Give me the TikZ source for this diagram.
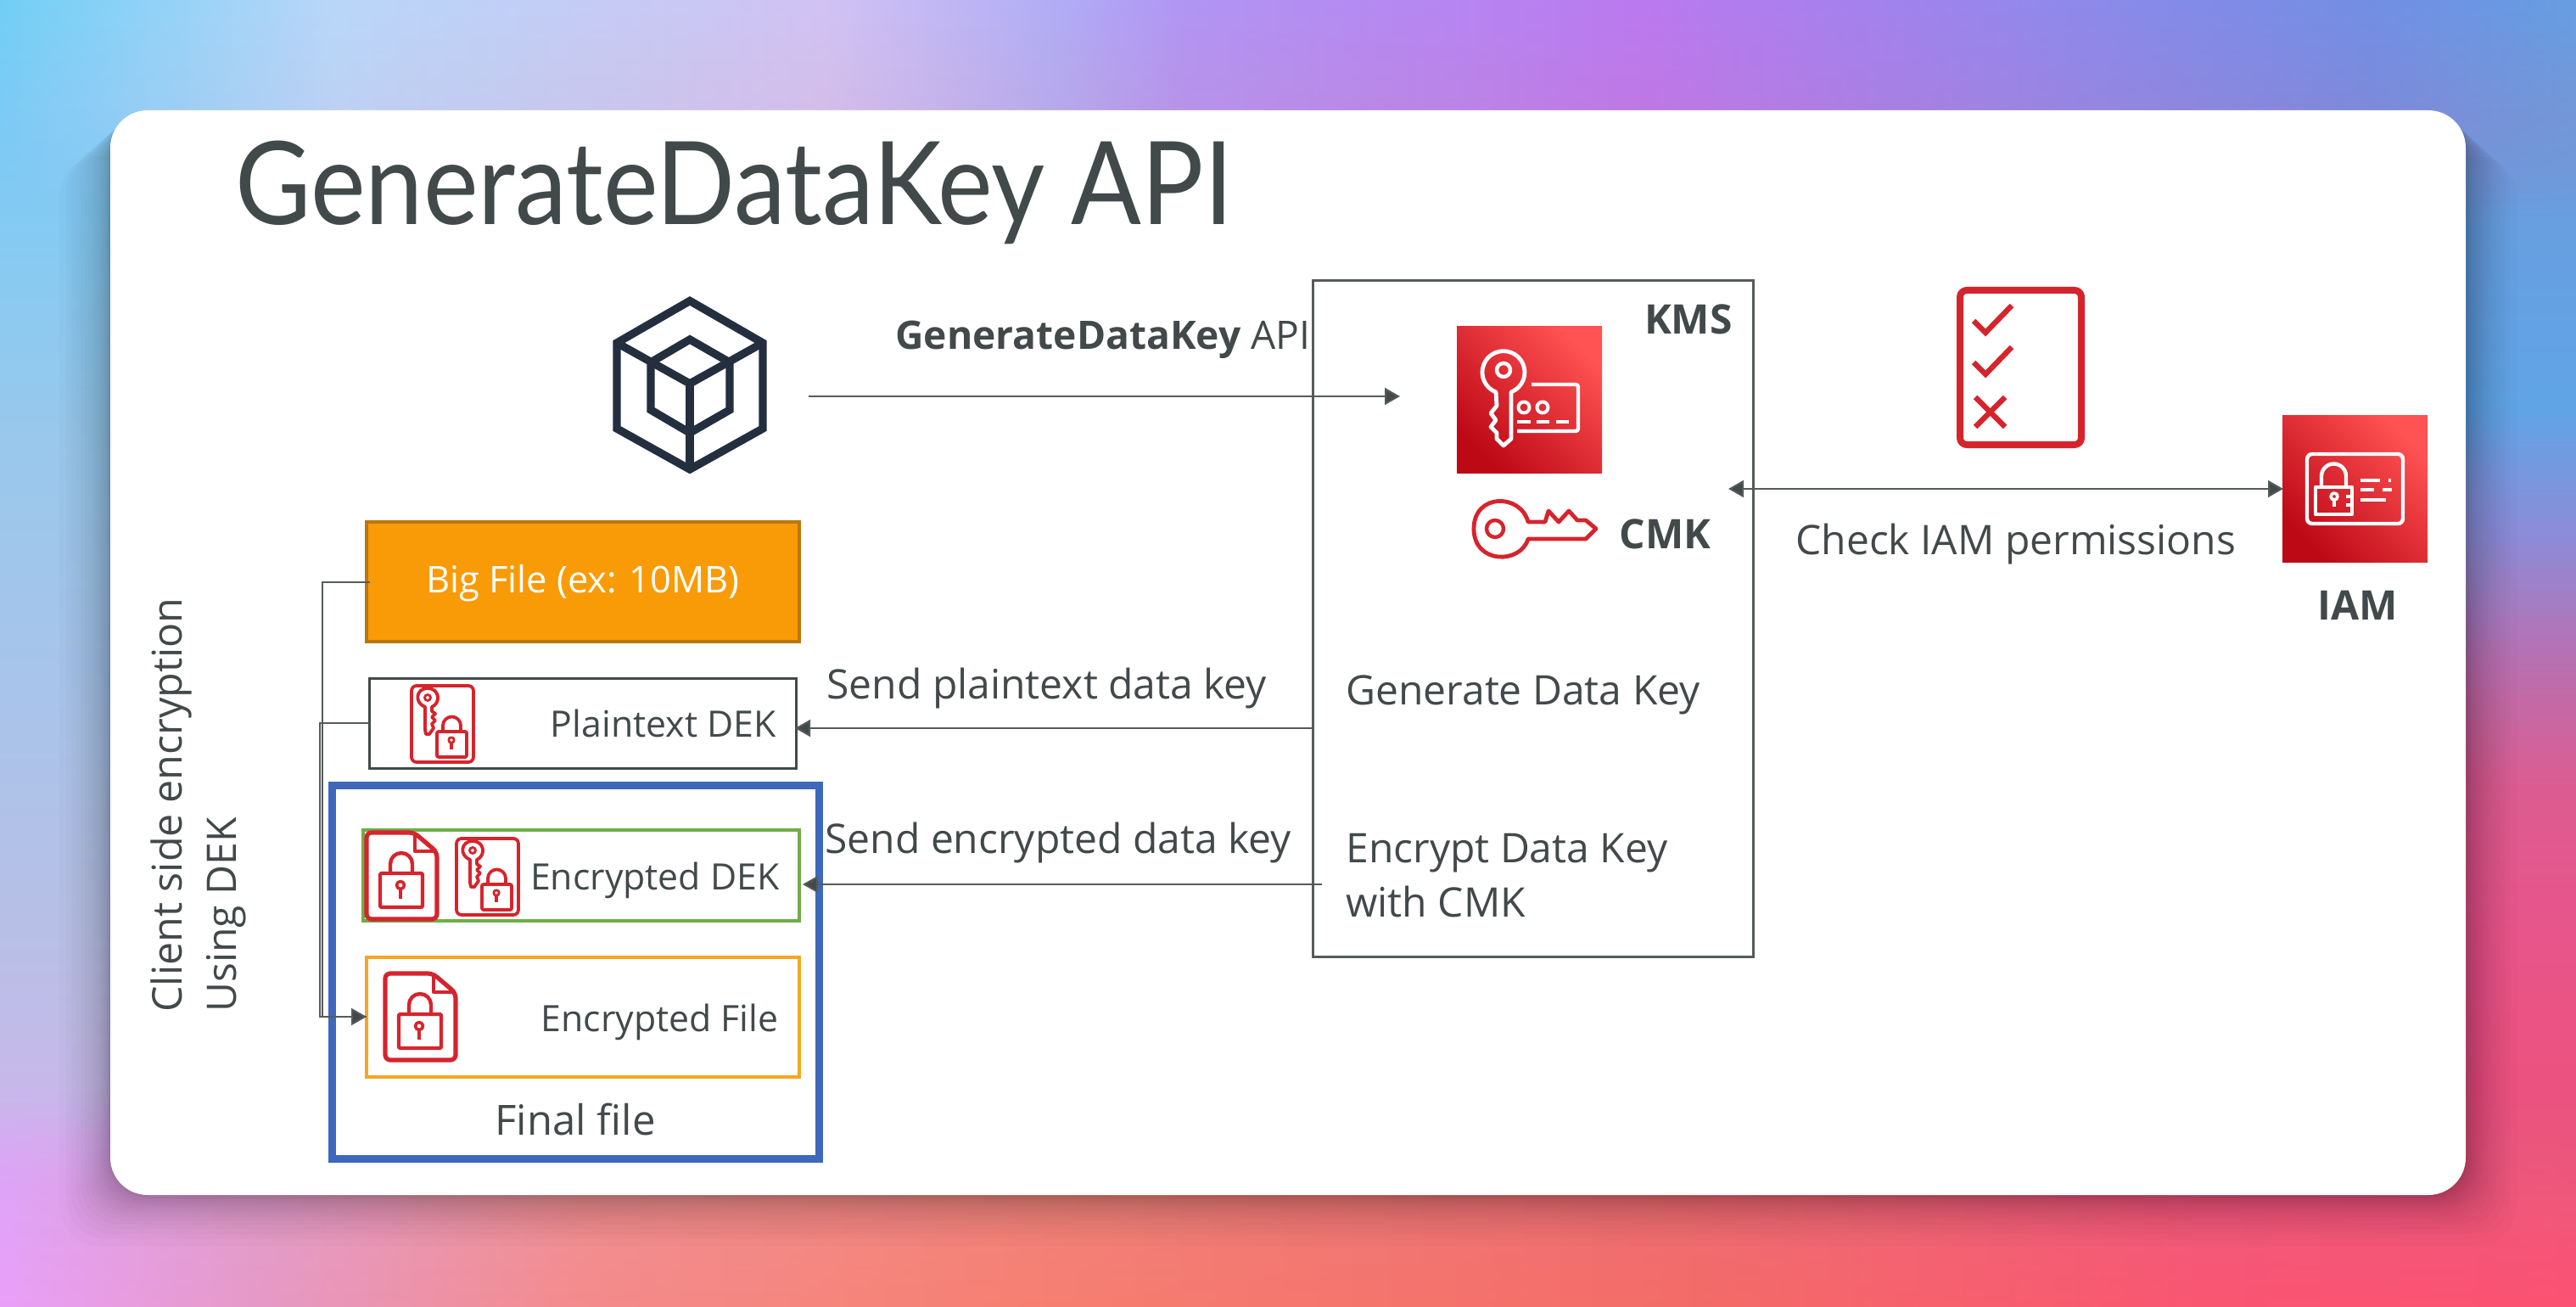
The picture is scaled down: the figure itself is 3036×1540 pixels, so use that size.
\documentclass[tikz,border=0pt]{standalone}
\usepackage{fontspec}
\setmainfont{Open Sans}
\newfontfamily\titlefont[FakeStretch=0.9]{Lato}
\usetikzlibrary{arrows.meta,fadings}
\definecolor{txt}{HTML}{42494A}
\definecolor{awsred}{HTML}{D6242D}
\definecolor{cubec}{HTML}{232F3E}
\definecolor{linec}{HTML}{555B5B}
\definecolor{awsdark}{HTML}{BD0816}
\definecolor{awslight}{HTML}{FF5252}
\definecolor{ta}{HTML}{6FD0F6}\definecolor{tb}{HTML}{B8D8FA}\definecolor{tc}{HTML}{D0C4F6}\definecolor{td}{HTML}{B0AEF8}
\definecolor{te}{HTML}{B096F6}\definecolor{tf}{HTML}{B97AF2}\definecolor{tg}{HTML}{8E8AEE}\definecolor{th}{HTML}{7090E6}\definecolor{ti}{HTML}{64A0E4}
\definecolor{ba}{HTML}{ECA0FC}\definecolor{bb}{HTML}{E898C4}\definecolor{bc}{HTML}{F58A8A}\definecolor{bd}{HTML}{F87F6F}
\definecolor{be}{HTML}{F56C66}\definecolor{bf}{HTML}{FC5570}\definecolor{bg}{HTML}{FF5070}
\definecolor{ra}{HTML}{6C9CDD}\definecolor{rb}{HTML}{60A4E6}\definecolor{rc}{HTML}{8C8CD8}\definecolor{rd}{HTML}{B870B0}
\definecolor{re}{HTML}{DC5C90}\definecolor{rf}{HTML}{E8558A}\definecolor{rg}{HTML}{EE5078}
\definecolor{la}{HTML}{79CCF6}\definecolor{lb}{HTML}{98C8EC}\definecolor{lc}{HTML}{A8C4EA}\definecolor{ld}{HTML}{B8BFE6}
\definecolor{le}{HTML}{C8B8EA}\definecolor{lf}{HTML}{DEA8F4}
\pgfdeclarehorizontalshading{topband}{100bp}{
 color(0bp)=(ta); color(25bp)=(ta);
 color(31.5bp)=(tb); color(41bp)=(tc); color(45.5bp)=(td); color(48bp)=(te);
 color(57bp)=(tf); color(65bp)=(tg); color(71bp)=(th);
 color(75bp)=(ti); color(100bp)=(ti)}
\pgfdeclarehorizontalshading{botband}{100bp}{
 color(0bp)=(ba); color(25bp)=(ba);
 color(30.5bp)=(bb); color(36.5bp)=(bc); color(45bp)=(bd); color(57.5bp)=(be);
 color(67.5bp)=(bf); color(75bp)=(bg); color(100bp)=(bg)}
% vertical: 25bp is the bottom of the path, 75bp its top
\pgfdeclareverticalshading{rightband}{100bp}{
 color(0bp)=(rg); color(25bp)=(rg); color(37bp)=(rf); color(43.8bp)=(re); color(49.7bp)=(rd);
 color(55.5bp)=(rc); color(61.3bp)=(rb); color(75bp)=(ra); color(100bp)=(ra)}
\pgfdeclareverticalshading{leftband}{100bp}{
 color(0bp)=(lf); color(25bp)=(lf); color(29.2bp)=(le); color(37bp)=(ld); color(48.7bp)=(lc);
 color(60.5bp)=(lb); color(75bp)=(la); color(100bp)=(la)}
% side strips melt into the base at both ends: black is transparent, white opaque
\pgfdeclareverticalshading{stripmask}{100bp}{
 color(0bp)=(black); color(25bp)=(black); color(30bp)=(white); color(70bp)=(white); color(75bp)=(black); color(100bp)=(black)}
\pgfdeclarefading{stripfade}{\pgfuseshading{stripmask}}
\tikzset{
 lbl/.style={anchor=base west,inner sep=0pt,text=txt,font=\fontsize{24}{24}\selectfont},
 blbl/.style={anchor=base east,inner sep=0pt,text=txt,font=\fontsize{24}{24}\selectfont\bfseries},
 ilbl/.style={anchor=base east,inner sep=0pt,text=txt,font=\fontsize{21.4}{21.4}\selectfont},
 conn/.style={draw=linec,line width=1pt},
 arr/.style={conn,-{Triangle[length=9pt,width=10pt,fill=txt]}},
 redl/.style={draw=awsred,line width=2pt,line join=round},
 whl/.style={draw=white,line width=2.2pt,line join=round},
 boxn/.style={inner sep=0pt,outer sep=0pt,anchor=north west},
 gradicon/.style={left color=awsdark,right color=awslight,shading angle=135}
}
% document with lock, 83x105 px
\newcommand{\docicon}[2]{\begin{scope}[shift={(#1,#2)}]
 \draw[redl,line width=2.6pt,rounded corners=3pt] (0,1) -- (56,1) -- (83,24) -- (83,103) -- (0,103) -- cycle;
 \draw[redl] (57,1) -- (57,23) -- (83,23);
 \draw[redl,line width=2.2pt,rounded corners=1pt] (16,49) rectangle (66,89);
 \draw[redl,line width=2.2pt] (28,49) -- (28,38) arc[start angle=180,end angle=360,radius=13] -- (54,49);
 \draw[redl,line width=1.8pt] (40,63) circle (4.5);
 \draw[redl,line width=2pt] (40,68) -- (40,79);
\end{scope}}
% document with key and lock, 73x91 px
\newcommand{\keydoc}[2]{\begin{scope}[shift={(#1,#2)}]
 \draw[redl,line width=1.9pt,rounded corners=3pt,fill=white] (0,0) rectangle (73,90);
 \draw[redl,line width=1.9pt] (16,25) .. controls (3,20) and (5,3) .. (19,3) .. controls (33,3) and (35,20) .. (24,25) -- (24,30) -- (28,33) -- (24,37) -- (28,41) -- (24,45) -- (26,50) -- (21,57) -- (17,57) -- (16,52) -- cycle;
 \draw[redl,line width=1.4pt] (19,14) circle (3.5);
 \draw[redl,line width=1.9pt,fill=white,rounded corners=1pt] (30,54) rectangle (65,84);
 \draw[redl,line width=1.9pt] (37,54) -- (37,47) arc[start angle=180,end angle=360,radius=10.5] -- (58,54);
 \draw[redl,line width=1.4pt] (47,64) circle (3.2);
 \draw[redl,line width=1.6pt] (47,67) -- (47,75);
\end{scope}}
\begin{document}
\begin{tikzpicture}[x=0.5pt,y=-0.5pt]
\useasboundingbox (0,0) rectangle (3036,1540);
% background (overlay runs past the page so that no sliver of the base shows)
\shade[shading=topband] (0,0) rectangle (3036,1540);
\shade[shading=botband,path fading=north] (-24,-24) rectangle (3060,1564);
\shade[shading=rightband,path fading=stripfade] (2860,130) rectangle (3060,1408);
\shade[shading=leftband,path fading=stripfade] (-24,130) rectangle (176,1408);
% card with soft shadow: outer layers are fainter and start lower
\foreach \g in {1,2,3,4,5,7,9,11,13,16,19,22,26,30,35,40,46,52,60}
  \fill[black,opacity=0.014,rounded corners=24pt] (130-\g,130+0.9*\g) rectangle (2906+\g,1408+\g);
\fill[white,rounded corners=22pt] (130,130) rectangle (2906,1408);
% title
\node[anchor=base west,inner sep=0pt,text=txt,font=\titlefont\fontsize{68}{68}\selectfont] (title) at (277,265) {GenerateDataKey API};
% cube
\begin{scope}[line width=4.7pt,line join=miter]
 \draw[cubec] (813,354.5) -- (899,404) -- (899,505) -- (813,553) -- (727,505) -- (727,404) -- cycle;
 \draw[cubec] (727,404) -- (813,452) -- (899,404);
 \draw[cubec] (813,452) -- (813,553);
 \draw[cubec] (767,427) -- (813,400) -- (860,427) -- (860,483) -- (813,510) -- (767,483) -- cycle;
\end{scope}
\coordinate (cubeout) at (953,467);
% KMS box
\node[boxn,draw=linec,line width=1.5pt,minimum width=259.5pt,minimum height=398pt] (kms) at (1547,331) {};
\coordinate (kmsin) at (1650,467);
\draw[arr] (cubeout) -- (kmsin);
\node[lbl,font=\fontsize{23.1}{23.1}\selectfont] (gdk) at (1055,412) {\textbf{GenerateDataKey} API};
\node[blbl] (kmsl) at (2042,394) {KMS};
% KMS icon
\begin{scope}[shift={(1717,385)}]
 \shade[gradicon] (0,0) rectangle (171,172);
 \draw[whl,line width=2.4pt] (46,77) arc[start angle=111,end angle=429,radius=25] -- (64,132) -- (55,140) -- (47,132) -- (47,125) -- (40,118) -- (46,110) -- (40,102) -- (47,93) -- cycle;
 \draw[whl,line width=2.2pt] (55,51) circle (8);
 \draw[whl,rounded corners=1.5pt] (88,68) -- (143,68) -- (143,123) -- (71,123);
 \draw[whl,line width=2pt] (79,95) circle (6.5);
 \draw[whl,line width=2pt] (101,95) circle (6.5);
 \draw[whl,line width=2pt] (71,112) -- (87,112) (94,112) -- (109,112) (117,112) -- (132,112);
\end{scope}
% CMK key
\draw[redl,line width=2.4pt] (1801,615) -- (1821,615) -- (1825,602) -- (1837,615) -- (1849,602) -- (1859,613) -- (1869,613) -- (1881,623) -- (1869,635) -- (1801,635)
  .. controls (1792,665) and (1737,665) .. (1737,623) .. controls (1737,581) and (1792,581) .. (1801,615) -- cycle;
\draw[redl,line width=2.2pt] (1762,623) circle (10);
\node[blbl] (cmk) at (2017,646) {CMK};
\node[lbl] (gen) at (1586,830) {Generate Data Key};
\node[lbl] (enc1) at (1586,1016) {Encrypt Data Key};
\node[lbl] (enc2) at (1586,1080) {with CMK};
% checklist
\draw[redl,line width=4pt,rounded corners=4pt] (2310,342) rectangle (2453,524);
\draw[redl,line width=3.2pt,line join=miter] (2326,378) -- (2340,392) -- (2371,360);
\draw[redl,line width=3.2pt,line join=miter] (2326,427) -- (2340,441) -- (2371,409);
\draw[redl,line width=3.2pt] (2328,468) -- (2363,503);
\draw[redl,line width=3.2pt] (2363,468) -- (2328,503);
% IAM
\begin{scope}[shift={(2690,490)}]
 \shade[gradicon] (0,0) rectangle (171,172);
 \draw[whl,rounded corners=3pt] (29,45) rectangle (142,127);
 \draw[whl] (39,84) rectangle (82,116);
 \draw[whl] (46,84) -- (46,71) arc[start angle=180,end angle=360,radius=14.5] -- (75,84);
 \draw[whl,line width=1.8pt] (61,95) circle (4);
 \draw[whl,line width=1.8pt] (61,100) -- (61,107);
 \draw[whl,line width=1.6pt] (75,95) -- (82,95) (75,105) -- (82,105);
 \draw[whl] (92,76) -- (115,76) (125,76) -- (128,76) (92,87) -- (108,87) (118,87) -- (129,87) (92,99) -- (122,99);
\end{scope}
\coordinate (iamin) at (2691,576);
\coordinate (kmsedge) at (2037,576);
\draw[conn,{Triangle[length=9pt,width=10pt,fill=txt]}-{Triangle[length=9pt,width=10pt,fill=txt]}] (kmsedge) -- (iamin);
\node[lbl] (check) at (2116,653) {Check IAM permissions};
\node[blbl] (iaml) at (2826,730) {IAM};
% left boxes
\definecolor{bigfill}{HTML}{F99B07}\definecolor{bigline}{HTML}{B9770E}
\definecolor{bluef}{HTML}{3D68BC}\definecolor{greenb}{HTML}{70AD47}\definecolor{orangeb}{HTML}{F5A623}
\node[boxn,draw=bluef,line width=4.5pt,minimum width=287pt,minimum height=220pt] (final) at (391,925) {};
\node[boxn,draw=bigline,fill=bigfill,line width=1.8pt,minimum width=255pt,minimum height=70.5pt,text=white,font=\fontsize{21.7}{21.7}\selectfont] (big) at (432,615) {\rule{0pt}{18pt}Big File (ex: 10MB)};
\node[boxn,draw=txt,line width=1.5pt,minimum width=251.5pt,minimum height=53pt] (plain) at (435,799) {};
\node[boxn,draw=greenb,line width=1.7pt,minimum width=257pt,minimum height=53.5pt] (green) at (428,978) {};
\node[boxn,draw=orangeb,line width=1.6pt,minimum width=255pt,minimum height=70.5pt] (orangebox) at (432,1128) {};
\keydoc{485}{808}
\docicon{432}{980}
\keydoc{538}{988}
\docicon{454}{1146}
\node[ilbl] (pl) at (915,868) {Plaintext DEK};
\node[ilbl] (ed) at (919,1048) {Encrypted DEK};
\node[ilbl] (ef) at (918,1215) {Encrypted File};
\node[anchor=base,inner sep=0pt,text=txt,font=\fontsize{24.5}{24.5}\selectfont] (ff) at (678,1337) {Final file};
% connectors
\coordinate (j1) at (380,686);
\coordinate (j2) at (380,1198);
\coordinate (j3) at (377,852);
\coordinate (j4) at (377,1198);
\coordinate (bigl) at (436,686);
\draw[conn] (bigl) -- (j1) -- (j2) -- (orangebox.west|-j2);
\draw[arr] (plain.west) -- (j3) -- (j4) -- (orangebox.west|-j4);
\coordinate (ks1) at (kms.west|-0,858);
\coordinate (ks2) at (1558,1042);
\coordinate (pt1) at (937,858);
\coordinate (pt2) at (946,1042);
\draw[arr] (ks1) -- (pt1);
\draw[arr] (ks2) -- (pt2);
\node[lbl] (s1) at (974,823) {Send plaintext data key};
\node[lbl] (s2) at (972,1005) {Send encrypted data key};
\node[anchor=base west,rotate=90,inner sep=0pt,text=txt,font=\fontsize{24.2}{24.2}\selectfont] (c1) at (214,1193) {Client side encryption};
\node[anchor=base west,rotate=90,inner sep=0pt,text=txt,font=\fontsize{24}{24}\selectfont] (c2) at (278,1193) {Using DEK};
\end{tikzpicture}
\end{document}
